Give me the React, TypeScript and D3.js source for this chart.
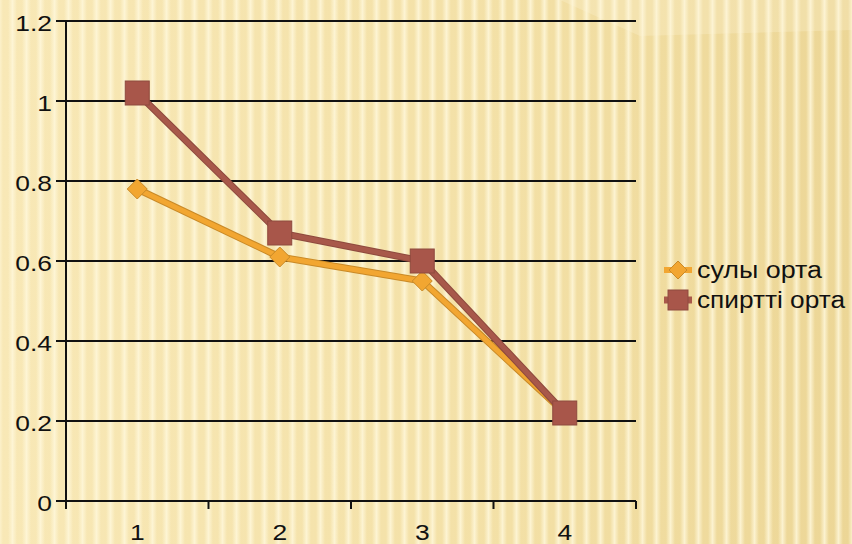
import React from "react";
import * as d3 from "d3";

const categories = ["1", "2", "3", "4"];
const yTicks = [0, 0.2, 0.4, 0.6, 0.8, 1, 1.2];
const yTickLabels = ["0", "0.2", "0.4", "0.6", "0.8", "1", "1.2"];
const seriesNames = ["сулы орта", "спиртті орта"];
const waterValues = [0.78, 0.61, 0.55, 0.22];
const spiritValues = [1.02, 0.67, 0.6, 0.22];

const W = 852;
const H = 544;
const left = 66;
const right = 636;
const top = 21;
const bottom = 501;

export default function App() {
  const x = d3.scaleBand<string>().domain(categories).range([left, right]);
  const y = d3.scaleLinear().domain([0, 1.2]).range([bottom, top]);
  const line = d3
    .line<number>()
    .x((_, i) => (x(categories[i]) as number) + x.bandwidth() / 2)
    .y((d) => y(d));
  const cx = (i: number) => (x(categories[i]) as number) + x.bandwidth() / 2;
  const stripes = d3.range(-20, W + 20, 14);
  const font = "'Liberation Sans', Arial, sans-serif";

  const diamond = (px: number, py: number, r: number) =>
    `M${px},${py - r}L${px + r},${py}L${px},${py + r}L${px - r},${py}Z`;

  return (
    <div style={{ position: "absolute", left: 0, top: 0 }}>
      <svg width={W} height={H} style={{ display: "block" }}>
        <defs>
          <linearGradient id="bg" x1="0" y1="0" x2="1" y2="0">
            <stop offset="0" stopColor="#F8E8B6" />
            <stop offset="0.6" stopColor="#F3E0A6" />
            <stop offset="1" stopColor="#ECD696" />
          </linearGradient>
          <linearGradient id="stripe" x1="0" y1="0" x2="1" y2="0">
            <stop offset="0" stopColor="#FFF8DC" stopOpacity="0" />
            <stop offset="0.5" stopColor="#FFF8DC" stopOpacity="0.8" />
            <stop offset="1" stopColor="#FFF8DC" stopOpacity="0" />
          </linearGradient>
        </defs>
        <rect x={0} y={0} width={W} height={H} fill="url(#bg)" />
        {stripes.map((s, i) => (
          <rect key={i} x={s} y={0} width={9} height={H} fill="url(#stripe)" />
        ))}
        <polygon points={`560,0 852,0 852,30 640,36`} fill="#FFF8DA" opacity={0.25} />

        {yTicks.map((t, i) => (
          <g key={i}>
            <line x1={left - 10} x2={right} y1={y(t)} y2={y(t)} stroke="#111" strokeWidth={2} />
            <text
              transform={`translate(${left - 14},${y(t) + 2}) scale(1.2,1)`}
              dy="0.36em"
              textAnchor="end"
              fontFamily={font}
              fontSize={22}
              fill="#111"
            >
              {yTickLabels[i]}
            </text>
          </g>
        ))}
        <line x1={left} x2={left} y1={top} y2={bottom + 8} stroke="#111" strokeWidth={2} />
        {[...categories.map((c) => x(c) as number), right].map((tx, i) => (
          <line key={i} x1={tx} x2={tx} y1={bottom} y2={bottom + 8} stroke="#111" strokeWidth={2} />
        ))}
        {categories.map((c, i) => (
          <text
            key={c}
            transform={`translate(${cx(i)},540) scale(1.2,1)`}
            textAnchor="middle"
            fontFamily={font}
            fontSize={22}
            fill="#111"
          >
            {c}
          </text>
        ))}

        <path d={line(waterValues) as string} fill="none" stroke="#C98A28" strokeWidth={7} strokeLinejoin="round" />
        <path d={line(waterValues) as string} fill="none" stroke="#F2A631" strokeWidth={5} strokeLinejoin="round" />
        {waterValues.map((v, i) => (
          <path key={i} d={diamond(cx(i), y(v), 10)} fill="#F2A631" stroke="#C98A28" strokeWidth={1} />
        ))}

        <path d={line(spiritValues) as string} fill="none" stroke="#8E4A3E" strokeWidth={7} strokeLinejoin="round" />
        <path d={line(spiritValues) as string} fill="none" stroke="#A8584A" strokeWidth={5} strokeLinejoin="round" />
        {spiritValues.map((v, i) => (
          <rect key={i} x={cx(i) - 12} y={y(v) - 12} width={24} height={24} fill="#A8564A" stroke="#8E4A3E" strokeWidth={1} />
        ))}

        <g>
          <line x1={664} x2={692} y1={270} y2={270} stroke="#F2A631" strokeWidth={6} />
          <path d={diamond(678, 270, 9)} fill="#F2A631" stroke="#C98A28" strokeWidth={1} />
          <text
            x={697}
            y={270}
            dy="0.36em"
            fontFamily={font}
            fontSize={23}
            fill="#111"
            textLength={125}
            lengthAdjust="spacingAndGlyphs"
          >
            {seriesNames[0]}
          </text>
          <line x1={664} x2={692} y1={300} y2={300} stroke="#A8584A" strokeWidth={7} />
          <rect x={668} y={290} width={20} height={20} fill="#A8564A" stroke="#8E4A3E" strokeWidth={1} />
          <text
            x={697}
            y={300}
            dy="0.36em"
            fontFamily={font}
            fontSize={23}
            fill="#111"
            textLength={148}
            lengthAdjust="spacingAndGlyphs"
          >
            {seriesNames[1]}
          </text>
        </g>
      </svg>
    </div>
  );
}
